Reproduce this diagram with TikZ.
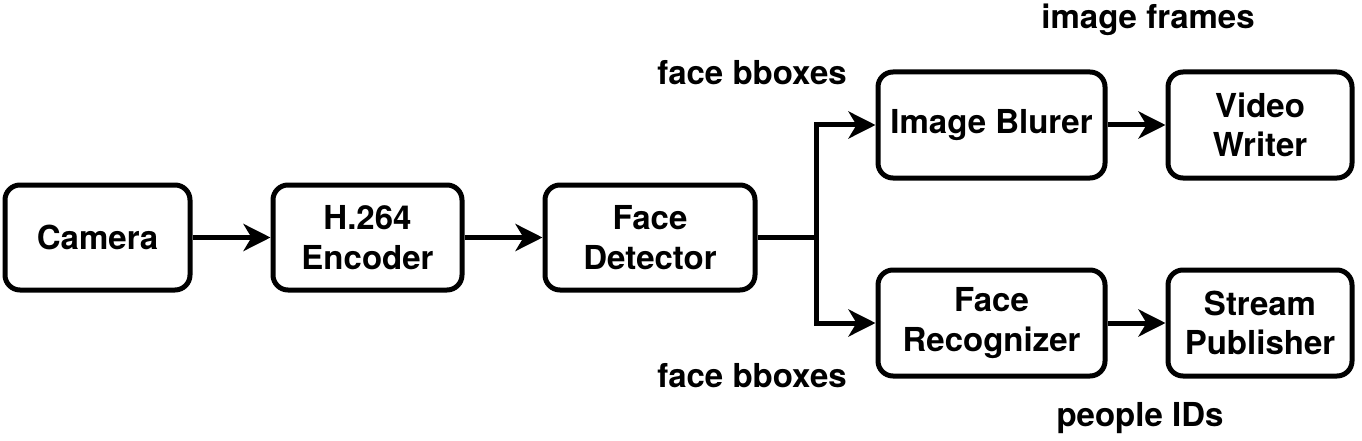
\documentclass[tikz,border=0pt]{standalone}
\usepackage{fontspec}
\setmainfont{TeX Gyre Heros}
\usetikzlibrary{arrows.meta}
\begin{document}
\begin{tikzpicture}[x=1pt,y=-1pt,
  blk/.style={draw, line width=5pt, rounded corners=15pt, align=center, inner sep=0pt,
    font=\fontsize{33}{39.5}\selectfont\bfseries},
  lbl/.style={font=\fontsize{33}{38}\selectfont\bfseries, inner sep=0pt},
  conn/.style={line width=5pt, -{Stealth[length=27pt,width=27pt,inset=8pt]}}]
\useasboundingbox (0,0) rectangle (1362,441);
\node[blk, minimum width=185pt, minimum height=105pt] (cam) at (97.5,237.5) {Camera};
\node[blk, minimum width=189pt, minimum height=105pt] (enc) at (367.5,237.5) {H.264\\Encoder};
\node[blk, minimum width=210pt, minimum height=105pt] (det) at (650,237.5) {Face\\Detector};
\node[blk, minimum width=227pt, minimum height=106pt] (blur) at (991.5,125) {Image Blurer};
\node[blk, minimum width=184pt, minimum height=106pt] (vw) at (1260,125) {Video\\Writer};
\node[blk, minimum width=227pt, minimum height=106pt] (rec) at (991.5,323) {Face\\Recognizer};
\node[blk, minimum width=184pt, minimum height=106pt] (sp) at (1260,323) {Stream\\Publisher};
\coordinate (br) at (816,237.5);
\draw[conn] (cam) -- (enc);
\draw[conn] (enc) -- (det);
\draw[line width=5pt] (det.east) -- (br);
\draw[conn] (br) |- (blur.west);
\draw[conn] (br) |- (rec.west);
\draw[conn] (blur) -- (vw);
\draw[conn] (rec) -- (sp);
\node[lbl] (l1) at (752,73) {face bboxes};
\node[lbl] (l2) at (752,376) {face bboxes};
\node[lbl] (l3) at (1148,20) {image frames};
\node[lbl] (l4) at (1140,418) {people IDs};
\end{tikzpicture}
\end{document}
